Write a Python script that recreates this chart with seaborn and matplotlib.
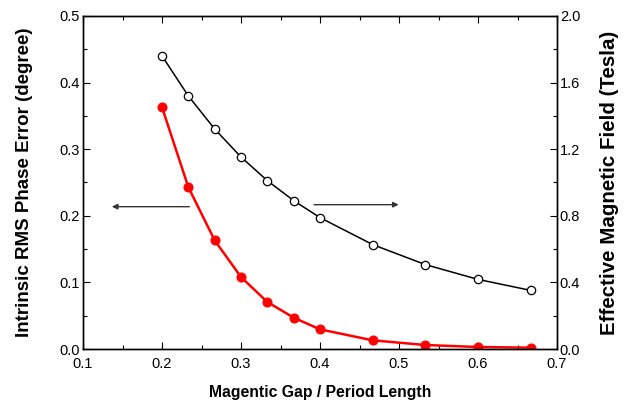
import matplotlib
matplotlib.use("Agg")
import matplotlib.pyplot as plt
import seaborn as sns
from matplotlib.ticker import MultipleLocator

gap_ratio = [0.2, 0.2333, 0.2667, 0.3, 0.3333, 0.3667, 0.4, 0.4667, 0.5333, 0.6, 0.6667]
phase_error = [0.363, 0.243, 0.163, 0.108, 0.0706, 0.047, 0.0295, 0.013, 0.006, 0.003, 0.002]
eff_field = [1.760, 1.520, 1.321, 1.153, 1.011, 0.891, 0.789, 0.627, 0.507, 0.418, 0.352]

sns.set_theme(style="white")
plt.rcParams['font.family'] = ['Liberation Sans', 'DejaVu Sans']
plt.rcParams['text.color'] = 'black'
plt.rcParams['axes.labelcolor'] = 'black'

fig = plt.figure(figsize=(6.28, 4.07), dpi=100)
ax = fig.add_axes([0.1322, 0.1425, 0.7548, 0.8182])
ax2 = ax.twinx()

sns.lineplot(x=gap_ratio, y=phase_error, ax=ax, color='#ff0000', linewidth=1.8,
             marker='o', markersize=6.5, markeredgecolor='#ff0000', markerfacecolor='#ff0000')
sns.lineplot(x=gap_ratio, y=eff_field, ax=ax2, color='black', linewidth=1.1,
             marker='o', markersize=6, markeredgecolor='black', markerfacecolor='white',
             markeredgewidth=0.9)

ax.set_xlim(0.1, 0.7)
ax.set_ylim(0.0, 0.5)
ax2.set_ylim(0.0, 2.0)

ax.xaxis.set_major_locator(MultipleLocator(0.1))
ax.xaxis.set_minor_locator(MultipleLocator(0.05))
ax.yaxis.set_major_locator(MultipleLocator(0.1))
ax.yaxis.set_minor_locator(MultipleLocator(0.05))
ax2.yaxis.set_major_locator(MultipleLocator(0.4))
ax2.yaxis.set_minor_locator(MultipleLocator(0.2))

fmt = lambda v, p: f"{v:.1f}"
ax.xaxis.set_major_formatter(fmt)
ax.yaxis.set_major_formatter(fmt)
ax2.yaxis.set_major_formatter(fmt)

for a in (ax, ax2):
    for s in a.spines.values():
        s.set_color('black')
        s.set_linewidth(1.0)
ax.tick_params(which='both', direction='in', top=True, bottom=True, left=True, right=False,
               labelsize=10.5, colors='black', width=0.8)
ax.tick_params(axis='y', pad=2)
ax.tick_params(axis='x', pad=6)
ax.tick_params(which='major', length=5)
ax.tick_params(which='minor', length=3)
ax2.tick_params(which='both', direction='in', right=True, labelsize=10.5, colors='black', width=0.8, pad=2)
ax2.tick_params(which='major', length=5)
ax2.tick_params(which='minor', length=3)

ax.set_xlabel('Magentic Gap / Period Length', fontsize=11.3, fontweight='bold', labelpad=10)
ax.set_ylabel('Intrinsic RMS Phase Error (degree)', fontsize=13.5, fontweight='bold', labelpad=19)
ax2.set_ylabel('Effective Magnetic Field (Tesla)', fontsize=14.8, fontweight='bold', labelpad=14)

arrow_kw = dict(arrowstyle='-|>', color='#333333', lw=1.0, mutation_scale=8)
ax.annotate('', xy=(0.133, 0.2137), xytext=(0.238, 0.2137), arrowprops=arrow_kw)
ax.annotate('', xy=(0.503, 0.2167), xytext=(0.389, 0.2167), arrowprops=arrow_kw)

fig.savefig('out.png', dpi=100)
